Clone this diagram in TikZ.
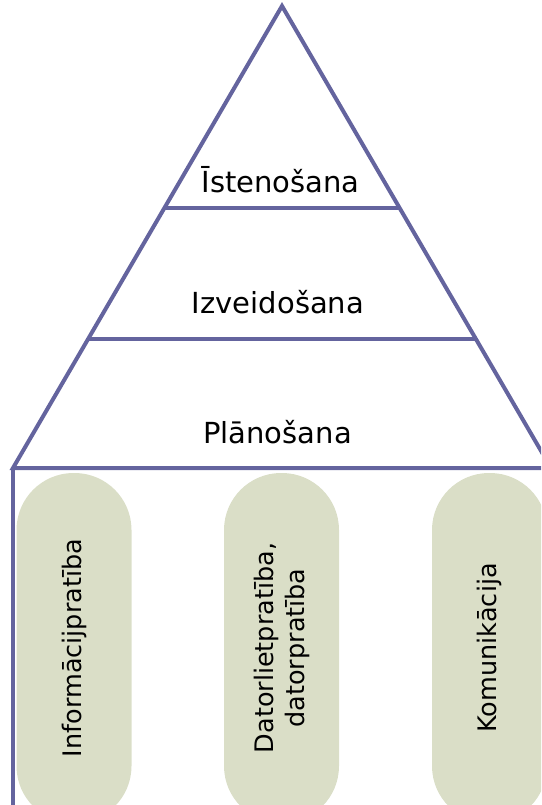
\documentclass[tikz,border=0pt]{standalone}
\usepackage{fontspec}
\setmainfont{DejaVu Sans}
\usetikzlibrary{calc}
\definecolor{edgeblue}{RGB}{100,100,158}
\definecolor{pillgreen}{RGB}{218,222,199}
\tikzset{
  line/.style={draw=edgeblue,line width=4pt},
  pill/.style={fill=pillgreen,rounded corners=57pt,minimum width=350pt,
    minimum height=115pt,inner sep=0pt,rotate=90,align=center,
    font=\fontsize{25.5}{31}\selectfont},
  layer/.style={anchor=base,font=\fontsize{29}{34}\selectfont}
}
\begin{document}
\begin{tikzpicture}[x=1pt,y=-1pt]
\useasboundingbox (0,0) rectangle (541,805);
\clip (0,0) rectangle (541,805);
\coordinate (T) at (282,6);
\coordinate (L) at (13,468);
\coordinate (R) at (551,468);
% pillars
\node[pill] (info) at (74,648) {Informācijpratība};
\node[pill] (dator) at (281.5,648) {Datorlietpratība,\\datorpratība};
\node[pill] (komun) at (489.5,648) {Komunikācija};
% pyramid
\draw[line,line join=miter] (L) -- (T) -- (R) -- cycle;
\draw[line] ($(T)!{202/462}!(L)$) -- ($(T)!{202/462}!(R)$);
\draw[line] ($(T)!{333/462}!(L)$) -- ($(T)!{333/462}!(R)$);
\coordinate (B) at (13,805);
\draw[line] (L) -- (B);
% layers
\node[layer] (isten) at (280.5,193) {Īstenošana};
\node[layer] (izveid) at (278,313) {Izveidošana};
\node[layer] (plan) at (277.5,443) {Plānošana};
\end{tikzpicture}
\end{document}
